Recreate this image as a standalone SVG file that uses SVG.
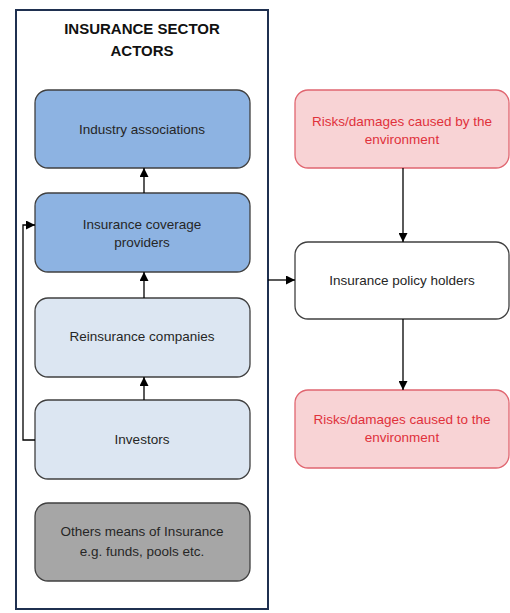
<svg xmlns="http://www.w3.org/2000/svg" width="510" height="613" viewBox="0 0 510 613">
<defs>
<marker id="ah" viewBox="0 0 10 10" refX="10" refY="5" markerWidth="9" markerHeight="9" markerUnits="userSpaceOnUse" orient="auto">
<path d="M0,0 L10,5 L0,10 z" fill="#000"/>
</marker>
<style>
.t{font-family:"Liberation Sans",Arial,sans-serif;font-size:13.5px;fill:#262626;text-anchor:middle}
.r{fill:#e0313b}
.dk{fill:#8db3e2;stroke:#404040;stroke-width:1.3}
.lt{fill:#dce6f2;stroke:#404040;stroke-width:1.3}
.gr{fill:#a6a6a6;stroke:#404040;stroke-width:1.3}
.pk{fill:#f8d3d5;stroke:#e06670;stroke-width:1.3}
.wh{fill:#fff;stroke:#404040;stroke-width:1.3}
.c{fill:none;stroke:#000;stroke-width:1.3;marker-end:url(#ah)}
</style>
</defs>
<rect width="510" height="613" fill="#fff"/>
<g id="container">
<rect x="16" y="10" width="252" height="599" fill="#fff" stroke="#1f3050" stroke-width="2"/>
<text x="142" y="34" style="font-family:'Liberation Sans',Arial,sans-serif;font-size:15px;font-weight:bold;fill:#111;text-anchor:middle">INSURANCE SECTOR</text>
<text x="142" y="56" style="font-family:'Liberation Sans',Arial,sans-serif;font-size:15px;font-weight:bold;fill:#111;text-anchor:middle">ACTORS</text>
</g>
<g id="industry">
<rect class="dk" x="35" y="90" width="215" height="78" rx="13"/>
<text class="t" x="142" y="134">Industry associations</text>
</g>
<g id="providers">
<rect class="dk" x="35" y="193" width="215" height="79" rx="13"/>
<text class="t" x="142" y="229">Insurance coverage</text>
<text class="t" x="142" y="247">providers</text>
</g>
<g id="reinsurance">
<rect class="lt" x="35" y="298" width="215" height="79" rx="13"/>
<text class="t" x="142" y="341">Reinsurance companies</text>
</g>
<g id="investors">
<rect class="lt" x="35" y="400" width="215" height="79" rx="13"/>
<text class="t" x="142" y="444">Investors</text>
</g>
<g id="others">
<rect class="gr" x="35" y="503" width="215" height="78" rx="13"/>
<text class="t" x="142" y="536">Others means of Insurance</text>
<text class="t" x="142" y="556">e.g. funds, pools etc.</text>
</g>
<g id="risks-by">
<rect class="pk" x="295" y="90" width="214" height="78" rx="13"/>
<text class="t r" x="402" y="126">Risks/damages caused by the</text>
<text class="t r" x="402" y="144">environment</text>
</g>
<g id="holders">
<rect class="wh" x="295" y="242" width="214" height="77" rx="13"/>
<text class="t" x="402" y="285">Insurance policy holders</text>
</g>
<g id="risks-to">
<rect class="pk" x="295" y="390" width="214" height="78" rx="13"/>
<text class="t r" x="402" y="424">Risks/damages caused to the</text>
<text class="t r" x="402" y="442">environment</text>
</g>
<g id="connectors">
<line class="c" x1="144" y1="193" x2="144" y2="168"/>
<line class="c" x1="144" y1="298" x2="144" y2="272"/>
<line class="c" x1="144" y1="400" x2="144" y2="377"/>
<polyline class="c" points="35,440 23,440 23,225 35,225"/>
<line class="c" x1="268" y1="280" x2="295" y2="280"/>
<line class="c" x1="403" y1="168" x2="403" y2="242"/>
<line class="c" x1="403" y1="319" x2="403" y2="390"/>
</g>
</svg>
